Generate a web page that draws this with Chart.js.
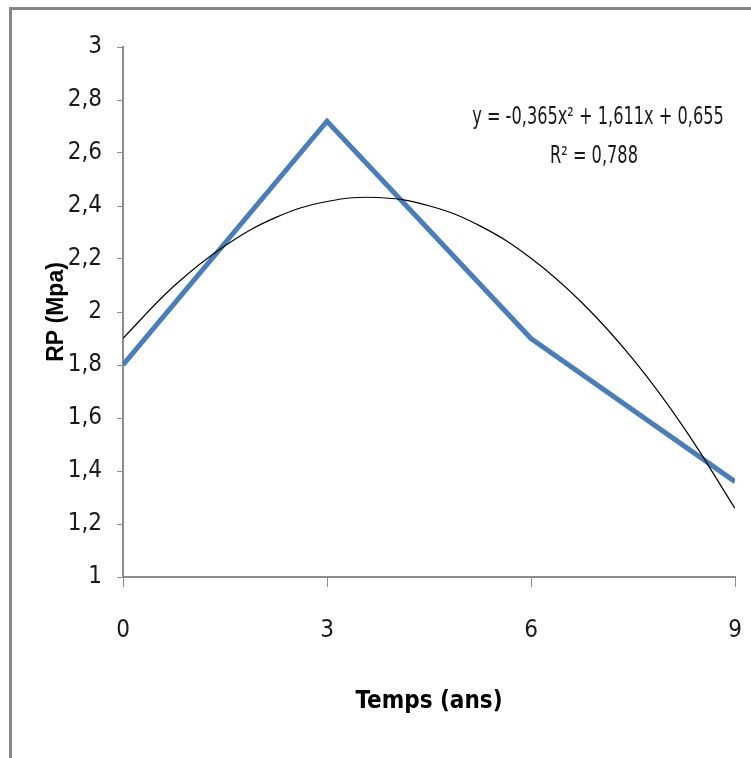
<!DOCTYPE html>
<html lang="fr">
<head>
<meta charset="utf-8">
<title>RP (Mpa) - Temps (ans)</title>
<script src="https://cdn.jsdelivr.net/npm/chart.js@4.4.1/dist/chart.umd.min.js"></script>
<style>
    body { margin: 0; background: #ffffff; }
    #zone { position: relative; width: 751px; height: 758px; }
</style>
</head>
<body>
<div id="zone">
    <canvas id="graficoRP" width="751" height="758"></canvas>
</div>
<script>
// Données
const temps = [0, 3, 6, 9];                 // Temps (ans)
const rp = [1.8, 2.72, 1.9, 1.36];          // RP (Mpa) mesurée

const tempsTendance = [0, 0.75, 1.5, 2.25, 3, 3.75, 4.5, 5.25, 6, 6.75, 7.5, 8.25, 9];
const rpTendance = [1.901, 2.098, 2.250, 2.357, 2.417, 2.432, 2.401, 2.325, 2.203, 2.035, 1.822, 1.563, 1.259];

// Graduations
const ticksX = [0, 3, 6, 9];
const ticksY = [1, 1.2, 1.4, 1.6, 1.8, 2, 2.2, 2.4, 2.6, 2.8, 3];

// Texte de l'équation
const equation = ["y = -0,365x\u00b2 + 1,611x + 0,655", "R\u00b2 = 0,788"];

const police = "'Liberation Sans Narrow', 'DejaVu Sans Condensed', sans-serif";
const gris = "#8c8c8c";

// Cadre gris (haut et gauche) + équation
const decor = {
    id: "decor",
    beforeDraw(chart) {
        const ctx = chart.ctx;
        ctx.save();
        ctx.fillStyle = "#ffffff";
        ctx.fillRect(0, 0, chart.width, chart.height);
        ctx.fillStyle = "#878787";
        ctx.fillRect(9, 7, chart.width - 9, 3);   // bord du haut
        ctx.fillRect(9, 7, 3, chart.height - 7);  // bord de gauche
        ctx.restore();
    },
    afterDraw(chart) {
        const ctx = chart.ctx;
        const k = 0.75; // police plus étroite, comme sur l'original
        ctx.save();
        ctx.fillStyle = "#1a1a1a";
        ctx.font = "24px " + police;
        ctx.textAlign = "center";
        ctx.textBaseline = "middle";
        ctx.scale(k, 1);
        ctx.fillText(equation[0], 598 / k, 118);
        ctx.fillText(equation[1], 594 / k, 157);
        ctx.restore();
    }
};

const ctx = document.getElementById("graficoRP").getContext("2d");

new Chart(ctx, {
    type: "line",
    data: {
        datasets: [
            {
                label: "RP",
                data: temps.map((t, i) => ({ x: t, y: rp[i] })),
                borderColor: "#4a7ebb",
                borderWidth: 5,
                pointRadius: 0,
                tension: 0,
                order: 2
            },
            {
                label: "Poly. (RP)",
                data: tempsTendance.map((t, i) => ({ x: t, y: rpTendance[i] })),
                borderColor: "#000000",
                borderWidth: 1.2,
                pointRadius: 0,
                tension: 0.4,
                order: 1
            }
        ]
    },
    options: {
        responsive: false,
        animation: false,
        layout: { padding: { top: 47, right: 16, left: 0, bottom: 0 } },
        plugins: {
            legend: { display: false },
            tooltip: { enabled: false }
        },
        scales: {
            x: {
                type: "linear",
                min: 0,
                max: 9,
                afterBuildTicks: s => { s.ticks = ticksX.map(v => ({ value: v })); },
                afterFit: s => { s.height = 181; s.paddingLeft = 0; s.paddingRight = 0; },
                grid: { drawOnChartArea: false, drawTicks: true, tickLength: 10, color: gris, lineWidth: 1 },
                border: { display: true, color: gris, width: 2 },
                ticks: {
                    padding: 29,
                    color: "#1a1a1a",
                    font: { family: police, size: 24 },
                    callback: v => String(v)
                },
                title: {
                    display: true,
                    text: "Temps (ans)",
                    color: "#000000",
                    font: { family: police, size: 24, weight: "bold" },
                    padding: { top: 0, bottom: 42 }
                }
            },
            y: {
                min: 1,
                max: 3,
                afterBuildTicks: s => { s.ticks = ticksY.map(v => ({ value: v })); },
                afterFit: s => { s.width = 123; },
                grid: { drawOnChartArea: false, drawTicks: true, tickLength: 6, color: gris, lineWidth: 1 },
                border: { display: true, color: gris, width: 2 },
                ticks: {
                    padding: 15,
                    color: "#1a1a1a",
                    font: { family: police, size: 24 },
                    callback: v => (Math.round(v * 10) / 10).toString().replace(".", ",")
                },
                title: {
                    display: true,
                    text: "RP (Mpa)",
                    color: "#000000",
                    font: { family: "'Liberation Sans', Arial, sans-serif", size: 23, weight: "bold" },
                    padding: { top: 43, bottom: 0 }
                }
            }
        }
    },
    plugins: [decor]
});
</script>
</body>
</html>
